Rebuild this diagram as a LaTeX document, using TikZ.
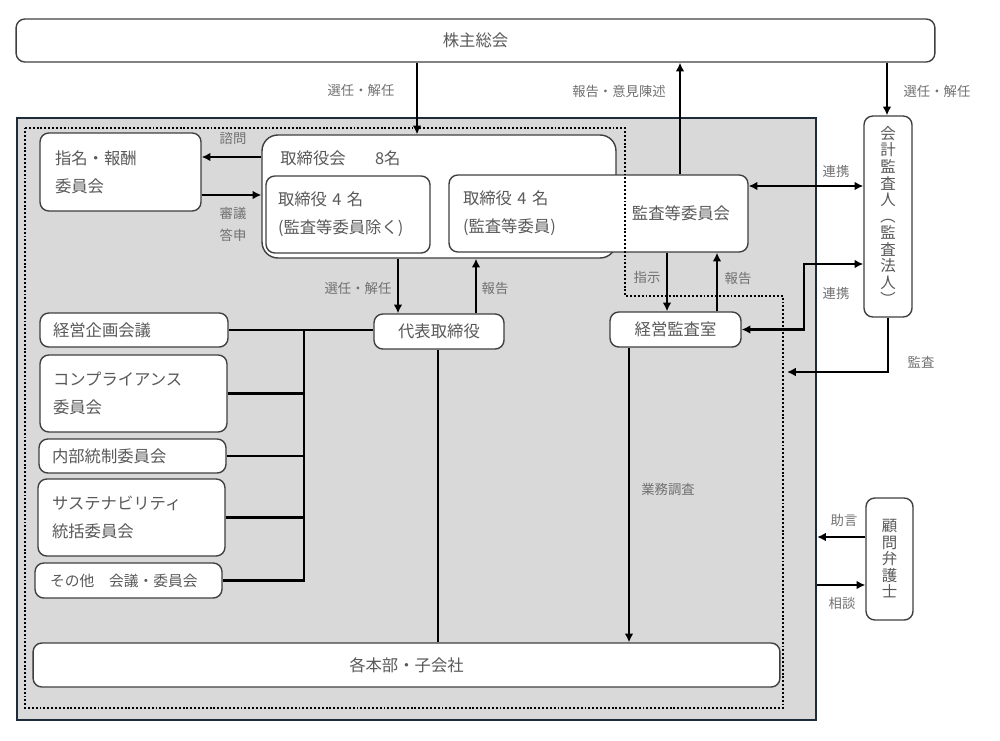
\documentclass[tikz,border=0pt]{standalone}
\usepackage{fontspec}
\setmainfont{Noto Sans CJK JP}
\usetikzlibrary{arrows.meta}

\definecolor{boxline}{HTML}{3F3F3F}
\definecolor{txtgray}{HTML}{595959}
\definecolor{lblgray}{HTML}{707070}
\definecolor{groupfill}{HTML}{D9D9D9}
\definecolor{groupline}{HTML}{1E2B38}

\tikzset{
  box/.style={draw=boxline, fill=white, line width=0.8pt, rounded corners=5pt,
    inner sep=0pt, text=txtgray, font=\fontsize{9.3}{16}\selectfont},
  lbox/.style={box, align=left},
  tbox/.style={box, align=center, font=\fontsize{8.8}{9.4}\selectfont},
  txt/.style={text=txtgray, font=\fontsize{9.3}{16}\selectfont, inner sep=0pt, align=left},
  lbl/.style={text=lblgray, font=\fontsize{7.6}{9}\selectfont, inner sep=0pt},
  conn/.style={line width=1.2pt},
  arr/.style={conn, -{Latex[length=5pt,width=5pt]}},
  darr/.style={conn, {Latex[length=5pt,width=5pt]}-{Latex[length=5pt,width=5pt]}},
  dotline/.style={line width=1.1pt, dash pattern=on 1.1pt off 1.1pt},
}

\newcommand{\tatepar}[1]{\rotatebox[origin=c]{-90}{#1}}

\begin{document}
\begin{tikzpicture}[x=0.02cm, y=-0.02cm]
  \useasboundingbox (0,0) rectangle (1000,740);

  % company frame
  \node[draw=groupline, fill=groupfill, line width=1.4pt, inner sep=0pt,
    minimum width=15.98cm, minimum height=12.04cm] (group) at (416.5,419) {};

  \node[box, minimum width=18.38cm, minimum height=0.86cm] (soukai) at (475.5,40.5) {株主総会};

  % board
  \node[lbox, inner xsep=0.3cm, text width=2.62cm, minimum height=1.56cm] (nomi) at (120.5,172) {指名・報酬\\委員会};
  \node[box, rounded corners=9pt, minimum width=7.08cm, minimum height=2.46cm] (board) at (439,196.5) {};
  \node[txt, anchor=west] (boardttl) at (280,158) {取締役会\hspace{1.8em}8名};
  \node[lbox, inner xsep=0.24cm, text width=2.8cm, minimum height=1.54cm] (exec4) at (348,214.5) {取締役 4 名\\(監査等委員除く)};
  \node[lbox, inner xsep=0.28cm, text width=5.42cm, minimum height=1.54cm] (audit) at (598.5,213.5) {取締役 4 名\\(監査等委員)};
  \node[txt] (audittl) at (681,213) {監査等委員会};

  % executive side
  \node[box, minimum width=2.6cm, minimum height=0.7cm] (daihyo) at (439,331.5) {代表取締役};
  \node[box, minimum width=2.62cm, minimum height=0.7cm] (kansashitsu) at (675.5,329.5) {経営監査室};
  \node[box, minimum width=14.94cm, minimum height=0.88cm] (honbu) at (406.5,665) {各本部・子会社};

  % committees
  \node[lbox, inner xsep=0.26cm, text width=3.24cm, minimum height=0.68cm] (kikaku) at (134,330) {経営企画会議};
  \node[lbox, inner xsep=0.26cm, text width=3.22cm, minimum height=1.54cm] (compliance) at (133.5,393.5) {コンプライアンス\\委員会};
  \node[lbox, inner xsep=0.26cm, text width=3.22cm, minimum height=0.68cm] (naibu) at (132.5,456) {内部統制委員会};
  \node[lbox, inner xsep=0.28cm, text width=3.18cm, minimum height=1.54cm] (sustain) at (131.5,517.5) {サステナビリティ\\統括委員会};
  \node[lbox, inner xsep=0.3cm, text width=3.14cm, minimum height=0.7cm,
    font=\fontsize{8.4}{10}\selectfont] (sonota) at (128.5,580.5) {その他　会議・委員会};

  % outside
  \node[tbox, minimum width=0.96cm, minimum height=4.02cm] (kaikei) at (888,216.5)
    {会\\計\\監\\査\\人\\\tatepar{（}\\監\\査\\法\\人\\\tatepar{）}};
  \node[tbox, minimum width=0.94cm, minimum height=2.44cm] (bengoshi) at (889.5,559)
    {顧\\問\\弁\\護\\士};

  % audit committee area
  \draw[dotline] (25,128) -- (625,128) -- (625,296) -- (783,296) -- (783,708) -- (25,708) -- cycle;

  % connectors
  \draw[arr] (417,0 |- soukai.south) -- (417,0 |- board.north);
  \draw[arr] (680,0 |- audit.north) -- (680,0 |- soukai.south);
  \draw[arr] (887,0 |- soukai.south) -- (887,0 |- kaikei.north);
  \draw[arr] (board.west |- 0,157) -- (nomi.east |- 0,157);
  \draw[arr] (nomi.east |- 0,195) -- (board.west |- 0,195);
  \draw[darr] (audit.east |- 0,186) -- (kaikei.west |- 0,186);
  \draw[darr] (kaikei.west |- 0,264) -- (804,264) -- (804,0 |- kansashitsu.east) -- (kansashitsu.east);
  \coordinate (auditpt) at (787,372);
  \draw[arr] (kaikei.south) |- (auditpt);
  \draw[arr] (398,0 |- board.south) -- (398,0 |- daihyo.north);
  \draw[arr] (476,0 |- daihyo.north) -- (476,0 |- board.south);
  \draw[arr] (667,0 |- audit.south) -- (667,0 |- kansashitsu.north);
  \draw[arr] (717,0 |- kansashitsu.north) -- (717,0 |- audit.south);
  \draw[arr] (629,0 |- kansashitsu.south) -- (629,0 |- honbu.north);
  \draw[conn] (438,0 |- daihyo.south) -- (438,0 |- honbu.north);
  \coordinate (bus) at (304,330);
  \draw[conn] (kikaku.east) -- (kikaku.east -| daihyo.west);
  \draw[conn] (bus) |- (sonota.east);
  \draw[conn] (compliance.east) -- (compliance.east -| bus);
  \draw[conn] (naibu.east) -- (naibu.east -| bus);
  \draw[conn] (sustain.east) -- (sustain.east -| bus);
  \draw[arr] (bengoshi.west |- 0,537) -- (group.east |- 0,537);
  \draw[arr] (group.east |- 0,585) -- (bengoshi.west |- 0,585);

  % labels
  \node[lbl] (lsennin1) at (361,90) {選任・解任};
  \node[lbl] (lhoukoku1) at (619,91) {報告・意見陳述};
  \node[lbl] (lsennin2) at (937,91) {選任・解任};
  \node[lbl] (lshimon) at (233,138) {諮問};
  \node[lbl] (lshingi) at (233,213) {審議};
  \node[lbl] (ltoushin) at (233,235) {答申};
  \node[lbl] (lrenkei1) at (836,171) {連携};
  \node[lbl] (lrenkei2) at (836,293) {連携};
  \node[lbl] (lkansa) at (921,362) {監査};
  \node[lbl] (lsennin3) at (358,288) {選任・解任};
  \node[lbl] (lhoukoku2) at (495,288) {報告};
  \node[lbl] (lshiji) at (647,277) {指示};
  \node[lbl] (lhoukoku3) at (738,278) {報告};
  \node[lbl] (lgyomu) at (668,489) {業務調査};
  \node[lbl] (ljogen) at (844,520) {助言};
  \node[lbl] (lsoudan) at (842,603) {相談};
\end{tikzpicture}
\end{document}
